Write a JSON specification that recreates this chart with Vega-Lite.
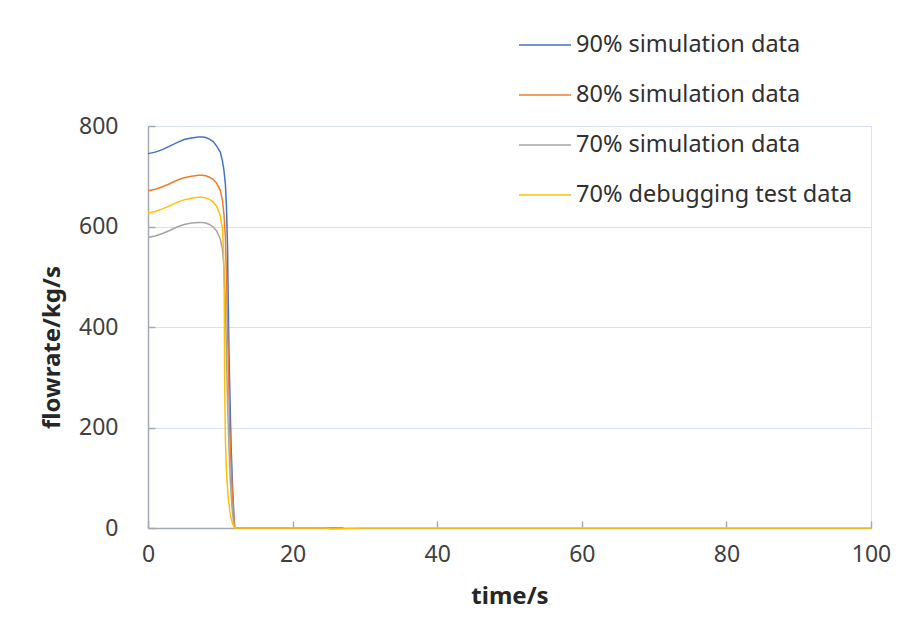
{
  "$schema": "https://vega.github.io/schema/vega-lite/v6.json",
  "width": 723,
  "height": 402,
  "autosize": {"type": "none"},
  "padding": {"left": 148, "top": 126, "right": 52, "bottom": 101},
  "background": "white",
  "config": {
    "view": {"stroke": "#dbe4f0", "strokeWidth": 1},
    "font": "Noto Sans",
    "axis": {
      "domainColor": "#a3aab5",
      "domainWidth": 1.5,
      "tickColor": "#a3aab5",
      "tickWidth": 1.5,
      "gridColor": "#d9e2ef",
      "gridWidth": 1.2,
      "labelFont": "Noto Sans",
      "labelFontSize": 23,
      "labelColor": "#404040",
      "labelFlush": false,
      "titleFont": "Noto Sans",
      "titleFontSize": 24,
      "titleFontWeight": "bold",
      "titleColor": "#262626"
    },
    "legend": {
      "labelFont": "Noto Sans",
      "labelFontSize": 23.5,
      "labelColor": "#303030",
      "labelLimit": 0
    }
  },
  "data": {
    "values": [
      {"t": 0, "v": 745, "s": "90% simulation data"},
      {"t": 1, "v": 748, "s": "90% simulation data"},
      {"t": 2, "v": 753, "s": "90% simulation data"},
      {"t": 3, "v": 760, "s": "90% simulation data"},
      {"t": 4, "v": 767, "s": "90% simulation data"},
      {"t": 5, "v": 773, "s": "90% simulation data"},
      {"t": 6, "v": 776, "s": "90% simulation data"},
      {"t": 7, "v": 778, "s": "90% simulation data"},
      {"t": 7.5, "v": 778, "s": "90% simulation data"},
      {"t": 8, "v": 777, "s": "90% simulation data"},
      {"t": 8.5, "v": 774, "s": "90% simulation data"},
      {"t": 9, "v": 769, "s": "90% simulation data"},
      {"t": 9.5, "v": 760, "s": "90% simulation data"},
      {"t": 10, "v": 748, "s": "90% simulation data"},
      {"t": 10.3, "v": 730, "s": "90% simulation data"},
      {"t": 10.5, "v": 712, "s": "90% simulation data"},
      {"t": 10.7, "v": 685, "s": "90% simulation data"},
      {"t": 10.85, "v": 640, "s": "90% simulation data"},
      {"t": 11.0, "v": 560, "s": "90% simulation data"},
      {"t": 11.1, "v": 450, "s": "90% simulation data"},
      {"t": 11.2, "v": 350, "s": "90% simulation data"},
      {"t": 11.35, "v": 250, "s": "90% simulation data"},
      {"t": 11.5, "v": 160, "s": "90% simulation data"},
      {"t": 11.7, "v": 80, "s": "90% simulation data"},
      {"t": 11.9, "v": 20, "s": "90% simulation data"},
      {"t": 12.0, "v": 0, "s": "90% simulation data"},
      {"t": 27, "v": 0, "s": "90% simulation data"},
      {"t": 0, "v": 671, "s": "80% simulation data"},
      {"t": 1, "v": 674, "s": "80% simulation data"},
      {"t": 2, "v": 679, "s": "80% simulation data"},
      {"t": 3, "v": 685, "s": "80% simulation data"},
      {"t": 4, "v": 692, "s": "80% simulation data"},
      {"t": 5, "v": 697, "s": "80% simulation data"},
      {"t": 6, "v": 700, "s": "80% simulation data"},
      {"t": 7, "v": 702, "s": "80% simulation data"},
      {"t": 7.5, "v": 702, "s": "80% simulation data"},
      {"t": 8, "v": 701, "s": "80% simulation data"},
      {"t": 8.5, "v": 698, "s": "80% simulation data"},
      {"t": 9, "v": 694, "s": "80% simulation data"},
      {"t": 9.5, "v": 686, "s": "80% simulation data"},
      {"t": 10, "v": 672, "s": "80% simulation data"},
      {"t": 10.3, "v": 652, "s": "80% simulation data"},
      {"t": 10.5, "v": 625, "s": "80% simulation data"},
      {"t": 10.7, "v": 580, "s": "80% simulation data"},
      {"t": 10.85, "v": 500, "s": "80% simulation data"},
      {"t": 11.0, "v": 400, "s": "80% simulation data"},
      {"t": 11.15, "v": 300, "s": "80% simulation data"},
      {"t": 11.3, "v": 200, "s": "80% simulation data"},
      {"t": 11.5, "v": 120, "s": "80% simulation data"},
      {"t": 11.7, "v": 60, "s": "80% simulation data"},
      {"t": 11.9, "v": 15, "s": "80% simulation data"},
      {"t": 12, "v": 0, "s": "80% simulation data"},
      {"t": 27, "v": 0, "s": "80% simulation data"},
      {"t": 0, "v": 578, "s": "70% simulation data"},
      {"t": 1, "v": 581, "s": "70% simulation data"},
      {"t": 2, "v": 586, "s": "70% simulation data"},
      {"t": 3, "v": 592, "s": "70% simulation data"},
      {"t": 4, "v": 599, "s": "70% simulation data"},
      {"t": 5, "v": 604, "s": "70% simulation data"},
      {"t": 6, "v": 607, "s": "70% simulation data"},
      {"t": 7, "v": 608, "s": "70% simulation data"},
      {"t": 7.5, "v": 608, "s": "70% simulation data"},
      {"t": 8, "v": 607, "s": "70% simulation data"},
      {"t": 8.5, "v": 604, "s": "70% simulation data"},
      {"t": 9, "v": 599, "s": "70% simulation data"},
      {"t": 9.5, "v": 591, "s": "70% simulation data"},
      {"t": 10, "v": 575, "s": "70% simulation data"},
      {"t": 10.3, "v": 555, "s": "70% simulation data"},
      {"t": 10.5, "v": 520, "s": "70% simulation data"},
      {"t": 10.7, "v": 450, "s": "70% simulation data"},
      {"t": 10.85, "v": 350, "s": "70% simulation data"},
      {"t": 11.0, "v": 250, "s": "70% simulation data"},
      {"t": 11.2, "v": 160, "s": "70% simulation data"},
      {"t": 11.4, "v": 90, "s": "70% simulation data"},
      {"t": 11.6, "v": 45, "s": "70% simulation data"},
      {"t": 11.8, "v": 15, "s": "70% simulation data"},
      {"t": 12, "v": 0, "s": "70% simulation data"},
      {"t": 27, "v": 0, "s": "70% simulation data"},
      {"t": 0, "v": 627, "s": "70% debugging test data"},
      {"t": 1, "v": 630, "s": "70% debugging test data"},
      {"t": 2, "v": 635, "s": "70% debugging test data"},
      {"t": 3, "v": 641, "s": "70% debugging test data"},
      {"t": 4, "v": 648, "s": "70% debugging test data"},
      {"t": 5, "v": 653, "s": "70% debugging test data"},
      {"t": 6, "v": 656, "s": "70% debugging test data"},
      {"t": 7, "v": 658, "s": "70% debugging test data"},
      {"t": 7.5, "v": 658, "s": "70% debugging test data"},
      {"t": 8, "v": 657, "s": "70% debugging test data"},
      {"t": 8.5, "v": 654, "s": "70% debugging test data"},
      {"t": 9, "v": 649, "s": "70% debugging test data"},
      {"t": 9.5, "v": 640, "s": "70% debugging test data"},
      {"t": 10, "v": 622, "s": "70% debugging test data"},
      {"t": 10.3, "v": 595, "s": "70% debugging test data"},
      {"t": 10.45, "v": 550, "s": "70% debugging test data"},
      {"t": 10.55, "v": 450, "s": "70% debugging test data"},
      {"t": 10.6, "v": 300, "s": "70% debugging test data"},
      {"t": 10.7, "v": 180, "s": "70% debugging test data"},
      {"t": 10.85, "v": 110, "s": "70% debugging test data"},
      {"t": 11.1, "v": 60, "s": "70% debugging test data"},
      {"t": 11.4, "v": 25, "s": "70% debugging test data"},
      {"t": 11.7, "v": 8, "s": "70% debugging test data"},
      {"t": 12, "v": 0, "s": "70% debugging test data"},
      {"t": 24.5, "v": 0, "s": "70% debugging test data"},
      {"t": 25.5, "v": -2, "s": "70% debugging test data"},
      {"t": 27, "v": -1, "s": "70% debugging test data"},
      {"t": 30, "v": 0, "s": "70% debugging test data"},
      {"t": 100, "v": 0, "s": "70% debugging test data"}
    ]
  },
  "encoding": {
    "x": {
      "field": "t",
      "type": "quantitative",
      "scale": {"domain": [0, 100], "nice": false},
      "axis": {
        "title": "time/s",
        "values": [0, 20, 40, 60, 80, 100],
        "grid": false,
        "tickSize": -7,
        "labelPadding": 22,
        "titlePadding": 18
      }
    },
    "y": {
      "field": "v",
      "type": "quantitative",
      "scale": {"domain": [0, 800], "nice": false},
      "axis": {
        "title": "flowrate/kg/s",
        "values": [0, 200, 400, 600, 800],
        "tickSize": -7,
        "labelPadding": 37,
        "titlePadding": 14,
        "titleY": 221
      }
    },
    "color": {
      "field": "s",
      "type": "nominal",
      "scale": {
        "domain": ["90% simulation data", "80% simulation data", "70% simulation data", "70% debugging test data"],
        "range": ["#4472C4", "#ED7D31", "#A5A5A5", "#FFC000"]
      },
      "legend": {
        "title": null,
        "orient": "none",
        "legendX": 370,
        "legendY": -108,
        "symbolType": "stroke",
        "symbolSize": 2704,
        "symbolStrokeWidth": 1.5,
        "labelOffset": 4,
        "rowPadding": 11
      }
    }
  },
  "layer": [
    {"transform": [{"filter": "datum.s === '90% simulation data'"}], "mark": {"type": "line", "strokeWidth": 1.5, "clip": false}},
    {"transform": [{"filter": "datum.s === '80% simulation data'"}], "mark": {"type": "line", "strokeWidth": 1.5, "clip": false}},
    {"transform": [{"filter": "datum.s === '70% simulation data'"}], "mark": {"type": "line", "strokeWidth": 1.5, "clip": false}},
    {"transform": [{"filter": "datum.s === '70% debugging test data'"}], "mark": {"type": "line", "strokeWidth": 1.5, "clip": false}}
  ]
}
